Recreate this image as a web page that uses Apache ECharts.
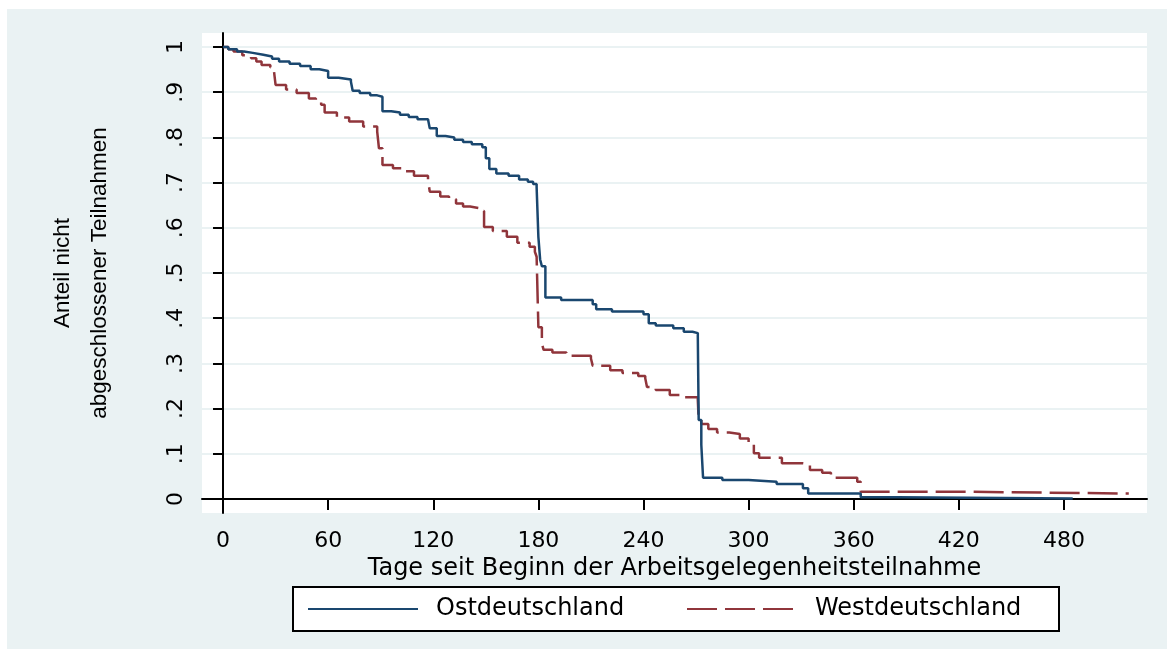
<!DOCTYPE html>
<html>
<head>
<meta charset="utf-8">
<script src="https://cdn.jsdelivr.net/npm/echarts@6/dist/echarts.min.js"></script>
<style>
  html, body { margin: 0; padding: 0; background: #ffffff; }
  #bg { position: absolute; left: 7px; top: 9px; right: 0; bottom: 0; background: #EAF2F3; }
  #plotbg { position: absolute; left: 202px; top: 33px; width: 945px; height: 480px; background: #ffffff; }
  #chart { position: absolute; left: 0; top: 0; width: 1167px; height: 649px; }
</style>
</head>
<body>
<div id="bg"></div>
<div id="plotbg"></div>
<div id="chart"></div>
<script>
// ---- data ----
const seriesNames = ['Ostdeutschland', 'Westdeutschland'];

const ostDays = [0,3,8,12,17,23,28,32,38,44,50,55,60,66,73,74,78,84,88,91,96,101,106,111,117,118,122,127,132,137,142,148,150,152,156,163,169,174,177,179,180,181,182,184,193,211,213,222,240,243,247,257,263,268,271,271.5,273,274,285,300,316,331,334,364,385,485];
const ostValues = [1.0,0.995,0.99,0.987,0.983,0.979,0.974,0.968,0.963,0.958,0.951,0.947,0.932,0.928,0.923,0.903,0.898,0.893,0.89,0.858,0.855,0.85,0.845,0.84,0.836,0.82,0.803,0.8,0.795,0.79,0.785,0.778,0.754,0.73,0.72,0.715,0.707,0.702,0.697,0.69,0.58,0.53,0.515,0.446,0.44,0.431,0.42,0.415,0.409,0.389,0.384,0.378,0.37,0.367,0.361,0.175,0.12,0.047,0.042,0.038,0.033,0.024,0.012,0.004,0.001,0.001];

const westDays = [0,3,6,11,16,19,22,27,29,30,36,42,49,53,56,58,65,72,80,88,89,91,97,103,109,117,118,124,129,133,137,141,147,149,154,162,168,175,178,179,180,182,183,188,196,210,211,221,228,237,241,242,247,255,262,271,271.5,273,277,282,289,295,300,303,306,319,331,335,342,347,362,364,413,423,517];
const westValues = [1.0,0.995,0.99,0.982,0.975,0.968,0.96,0.955,0.949,0.916,0.906,0.898,0.886,0.879,0.872,0.855,0.844,0.835,0.824,0.813,0.776,0.739,0.732,0.725,0.715,0.707,0.68,0.669,0.663,0.654,0.647,0.643,0.637,0.602,0.593,0.58,0.567,0.558,0.547,0.536,0.38,0.344,0.33,0.324,0.317,0.311,0.295,0.285,0.279,0.272,0.267,0.248,0.241,0.23,0.225,0.219,0.175,0.166,0.155,0.147,0.144,0.134,0.122,0.101,0.091,0.079,0.077,0.064,0.058,0.047,0.038,0.016,0.016,0.012,0.012];

const xTickValues = [0,60,120,180,240,300,360,420,480];
const yTickValues = [0,0.1,0.2,0.3,0.4,0.5,0.6,0.7,0.8,0.9,1];
const yTickLabels = ['0','.1','.2','.3','.4','.5','.6','.7','.8','.9','1'];

const xTitle = 'Tage seit Beginn der Arbeitsgelegenheitsteilnahme';
const yTitle = 'Anteil nicht\nabgeschlossener Teilnahmen';

// ---- chart ----
const zip = (a, b) => a.map((d, i) => [d, b[i]]);
const chart = echarts.init(document.getElementById('chart'), null, { renderer: 'canvas' });
const FONT = 'DejaVu Sans';

const option = {
  animation: false,
  backgroundColor: 'transparent',
  grid: [
    { left: 202, right: 20, top: 33, bottom: 136, containLabel: false },
    { left: 202, right: 20, top: 47, bottom: 150, containLabel: false }
  ],
  xAxis: [
    {
      type: 'value', gridIndex: 0, min: -12, max: 527.4,
      axisLine: { show: true, lineStyle: { color: '#000', width: 2 } },
      axisTick: { show: true, length: 11, lineStyle: { color: '#000', width: 2 }, customValues: xTickValues },
      axisLabel: { show: true, margin: 17, customValues: xTickValues, fontFamily: FONT, fontSize: 22, color: '#000', lineHeight: 22 },
      splitLine: { show: false },
      name: xTitle, nameLocation: 'middle', nameGap: 37,
      nameTextStyle: { fontFamily: FONT, fontSize: 24, color: '#000', lineHeight: 24 }
    },
    { type: 'value', gridIndex: 1, min: -12, max: 527.4, show: false }
  ],
  yAxis: [
    {
      type: 'value', gridIndex: 0, min: -0.031, max: 1.031,
      axisLine: { show: true, lineStyle: { color: '#000', width: 2 } },
      axisTick: { show: true, length: 10, lineStyle: { color: '#000', width: 2 }, customValues: yTickValues },
      axisLabel: {
        show: true, rotate: 90, margin: 15, customValues: yTickValues,
        fontFamily: FONT, fontSize: 22, color: '#000', lineHeight: 22,
        formatter: function (v) {
          let idx = yTickValues.findIndex(t => Math.abs(t - v) < 1e-6);
          return idx >= 0 ? yTickLabels[idx] : '';
        }
      },
      splitLine: { show: false },
      name: yTitle, nameLocation: 'middle', nameRotate: 90, nameGap: 84,
      nameTextStyle: { fontFamily: 'Liberation Sans', fontSize: 22.5, color: '#000', lineHeight: 37, align: 'center' }
    },
    {
      type: 'value', gridIndex: 1, min: 0, max: 1, interval: 0.1,
      axisLine: { show: false }, axisTick: { show: false }, axisLabel: { show: false },
      splitLine: { show: true, lineStyle: { color: '#EAF2F3', width: 2 } }
    }
  ],
  legend: {
    left: 293, top: 587, orient: 'horizontal',
    padding: [10, 14, 10, 14],
    itemWidth: 110, itemHeight: 14, itemGap: 40,
    borderColor: '#000', borderWidth: 2, borderRadius: 0, backgroundColor: '#fff',
    selectedMode: false,
    itemStyle: { opacity: 0 },
    textStyle: { fontFamily: FONT, fontSize: 24, color: '#000', lineHeight: 23, padding: [0, 0, 0, 13] },
    data: [
      { name: seriesNames[0], textStyle: { width: 210 } },
      { name: seriesNames[1], textStyle: { width: 230 } }
    ]
  },
  series: [
    {
      name: seriesNames[0], type: 'line', step: 'end', xAxisIndex: 0, yAxisIndex: 0,
      symbol: 'none', showSymbol: false, data: zip(ostDays, ostValues),
      lineStyle: { color: '#1A476F', width: 2.5 }, itemStyle: { color: '#1A476F' }, z: 3
    },
    {
      name: seriesNames[1], type: 'line', step: 'end', xAxisIndex: 0, yAxisIndex: 0,
      symbol: 'none', showSymbol: false, data: zip(westDays, westValues),
      lineStyle: { color: '#90353B', width: 2.5, type: [30, 8] }, itemStyle: { color: '#90353B' }, z: 2
    }
  ]
};
chart.setOption(option);
</script>
</body>
</html>
